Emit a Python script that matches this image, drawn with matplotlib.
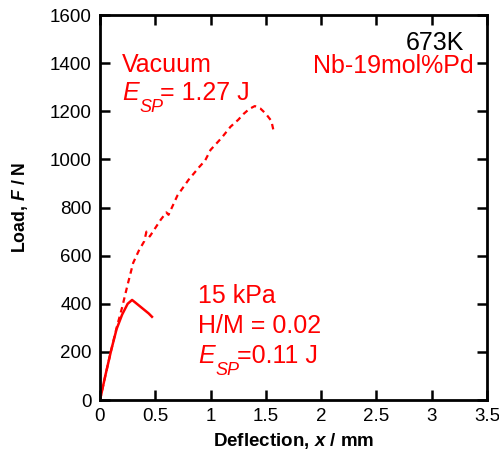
import numpy as np
import matplotlib.pyplot as plt

plt.rcParams['font.family'] = ['Liberation Sans', 'DejaVu Sans']
plt.rcParams['mathtext.fontset'] = 'custom'
plt.rcParams['mathtext.rm'] = 'Liberation Sans'
plt.rcParams['mathtext.it'] = 'Liberation Sans:italic'
plt.rcParams['mathtext.bf'] = 'Liberation Sans:bold:italic'

# vacuum test (dashed)
x_vac = [0, 0.05, 0.1, 0.15, 0.2, 0.25, 0.3, 0.35, 0.4, 0.42, 0.45, 0.5, 0.55, 0.6, 0.62,
         0.7, 0.8, 0.9, 0.95, 1.0, 1.1, 1.18, 1.25, 1.3, 1.35, 1.4, 1.45, 1.5, 1.55, 1.57]
y_vac = [0, 105, 205, 300, 385, 480, 570, 620, 660, 700, 680, 715, 750, 780, 770,
         850, 915, 970, 995, 1040, 1090, 1136, 1165, 1190, 1210, 1222, 1212, 1190, 1160, 1118]

# 15 kPa hydrogen (solid)
x_h = [0, 0.05, 0.1, 0.15, 0.2, 0.25, 0.29, 0.32, 0.36, 0.4, 0.44, 0.47]
y_h = [0, 105, 205, 295, 355, 400, 416, 405, 390, 375, 360, 346]

xticks = [0, 0.5, 1, 1.5, 2, 2.5, 3, 3.5]
xlabels = ['0', '0.5', '1', '1.5', '2', '2.5', '3', '3.5']
yticks = [0, 200, 400, 600, 800, 1000, 1200, 1400, 1600]

fig = plt.figure(figsize=(4.99, 4.59), dpi=100)
ax = fig.add_axes([0.2004, 0.1285, 0.7756, 0.8385])

red = '#ff0000'
ax.plot(x_vac, y_vac, color=red, lw=1.6, dashes=(2.5, 2))
ax.plot(x_h, y_h, color=red, lw=1.8)

ax.set_xlim(0, 3.5)
ax.set_ylim(0, 1600)
ax.set_xticks(xticks)
ax.set_xticklabels(xlabels)
ax.set_yticks(yticks)
ax.tick_params(direction='in', length=7, width=1.8, labelsize=13.5,
               top=True, right=True, pad=6)
for s in ax.spines.values():
    s.set_linewidth(2)

ax.set_xlabel(r'Deflection, $\mathbf{x}$ / mm', fontsize=13.5, fontweight='bold', labelpad=4)
ax.set_ylabel(r'Load, $\mathbf{F}$ / N', fontsize=12.8, fontweight='bold', labelpad=14)


def esp(x, y, rest, dx_rest):
    # italic E with a large, low SP subscript, then the value
    kw = dict(xycoords='data', textcoords='offset pixels', color=red, va='baseline')
    ax.annotate('E', (x, y), xytext=(0, 0), fontsize=18, style='italic', **kw)
    ax.annotate('SP', (x, y), xytext=(17, -12), fontsize=13, style='italic', **kw)
    ax.annotate(rest, (x, y), xytext=(dx_rest, 0), fontsize=18, **kw)


ax.text(0.2, 1364, 'Vacuum', color=red, fontsize=18, va='baseline')
esp(0.2, 1247, '= 1.27 J', 38)
ax.text(0.89, 403, '15 kPa', color=red, fontsize=18, va='baseline')
ax.text(0.89, 278, 'H/M = 0.02', color=red, fontsize=18, va='baseline')
esp(0.89, 153, '=0.11 J', 39)
ax.text(3.29, 1455, '673K', color='black', fontsize=18, va='baseline', ha='right')
ax.text(3.38, 1358, 'Nb-19mol%Pd', color=red, fontsize=18, va='baseline', ha='right')

fig.savefig('out.png', dpi=100)
